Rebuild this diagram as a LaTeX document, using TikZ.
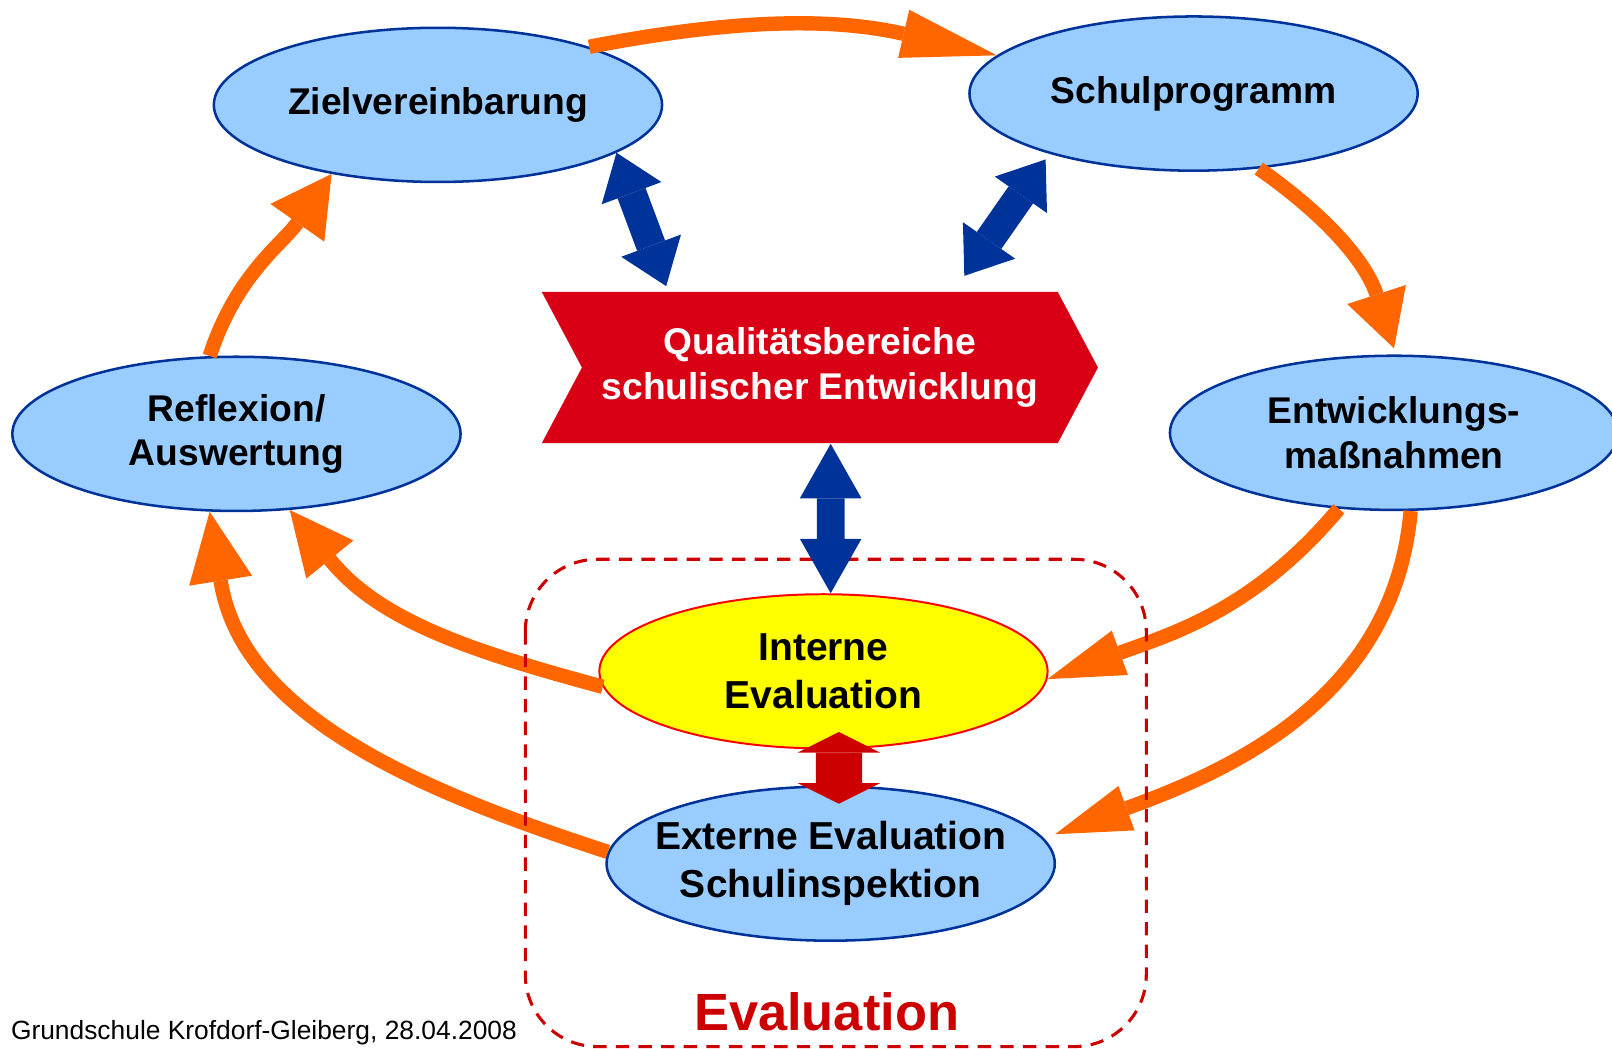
\documentclass[tikz,border=0pt]{standalone}
\usepackage{fontspec}
\setsansfont{Liberation Sans}
\usepackage{tikz}
\usetikzlibrary{arrows.meta,shapes.geometric,shapes.symbols}
\usepackage{xcolor}
\definecolor{stageblue}{RGB}{153,204,255}
\definecolor{rimblue}{RGB}{0,51,153}
\definecolor{floworange}{RGB}{255,102,0}
\definecolor{signred}{RGB}{217,0,21}
\definecolor{evalred}{RGB}{204,0,0}
\definecolor{innerfill}{RGB}{255,255,0}
\definecolor{innerrim}{RGB}{255,0,0}

\begin{document}
\begin{tikzpicture}[x=0.1mm,y=0.1mm,
  stage/.style={ellipse,draw=rimblue,line width=0.7pt,fill=stageblue,
    minimum width=43.6mm,minimum height=15mm,inner sep=0pt,align=center,
    font=\sffamily\bfseries\fontsize{10.3}{12.3}\selectfont},
  evalstage/.style={stage,font=\sffamily\bfseries\fontsize{10.8}{13.2}\selectfont},
  flow/.style 2 args={draw=floworange,line width=1.4mm,
    -{Triangle[length=#1,width=#2,line width=0pt]}},
  link/.style={draw=rimblue,line width=2.9mm,
    {Triangle[length=4.2mm,width=6.2mm,line width=0pt]}-{Triangle[length=4.2mm,width=6.2mm,line width=0pt]}}
  ]
\useasboundingbox (0,0) rectangle (1568,-1020);
\def\tipv{Triangle[length=5.3mm,width=6mm,line width=0pt]}
\def\tipr{Triangle[length=2mm,width=8mm,line width=0pt]}

\node[stage] (ziel) at (426,-102) {Zielvereinbarung};
\node[stage] (schul) at (1161,-91) {Schulprogramm};
\node[stage] (refl) at (230,-422) {Reflexion/\\Auswertung};
\node[stage] (entw) at (1356,-421) {Entwicklungs-\\maßnahmen};
\node[evalstage,fill=innerfill,draw=innerrim,line width=0.55pt] (intern) at (801,-653) {Interne\\Evaluation};
\node[evalstage,inner xsep=-3mm] (extern) at (808,-840) {Externe Evaluation\\Schulinspektion};
\node[signal,signal from=west,signal to=east,signal pointer angle=124,
  fill=signred,minimum width=54.1mm,minimum height=14.7mm,inner sep=0pt,
  text=white,align=center,font=\sffamily\bfseries\fontsize{10.3}{12.3}\selectfont]
  (qual) at (797.5,-357.5) {Qualitätsbereiche\\schulischer Entwicklung};

\draw[flow={9.3mm}{4.8mm}] (ziel.21) to[out=11,in=167] (schul.169);
\draw[flow={5.5mm}{6mm}] (schul.-49) to[out=-35,in=108] ([yshift=0.6mm]entw.north);
\draw[flow={7.5mm}{4.6mm}] (entw.-126) to[out=-130,in=20] (intern.-2);
\draw[flow={7.4mm}{4.6mm}] (entw.-78) to[out=-95,in=20] ([xshift=1.5mm]extern.8);
\draw[flow={6.2mm}{5.9mm}] (intern.184) to[out=165,in=-51] (refl.-55);
\draw[flow={6.8mm}{6.2mm}] (extern.177) to[out=162,in=-81] (refl.-109);
\draw[flow={5.8mm}{6.4mm}] (refl.109) to[out=72,in=-125] (ziel.213);

\draw[evalred,line width=0.85pt,dash pattern=on 1.3mm off 0.9mm,rounded corners=7mm]
  (511,-544) rectangle (1115,-1018);
\node[anchor=base,text=evalred,font=\sffamily\bfseries\fontsize{14.5}{17}\selectfont]
  (evaltitle) at (804,-1002) {Evaluation};

\draw[link] (ziel.-15) -- ([xshift=-14.95mm,yshift=0.5mm]qual.north);
\draw[link] ([shift={(-0.9mm,-0.4mm)}]schul.204) -- ([xshift=14.05mm,yshift=1.5mm]qual.north);
\draw[link,line width=2.7mm,{\tipv}-{\tipv}] ([xshift=1.05mm]qual.south) -- ([xshift=0.7mm]intern.north);
\draw[evalred,line width=4.5mm,{\tipr}-{\tipr}] ([xshift=1.5mm,yshift=1.7mm]intern.south) -- ([xshift=0.8mm,yshift=-1.8mm]extern.north);

\node[anchor=base west,inner sep=0pt,font=\sffamily\fontsize{7.3}{9}\selectfont]
  (footer) at (10,-1011) {Grundschule Krofdorf-Gleiberg, 28.04.2008};
\end{tikzpicture}
\end{document}
